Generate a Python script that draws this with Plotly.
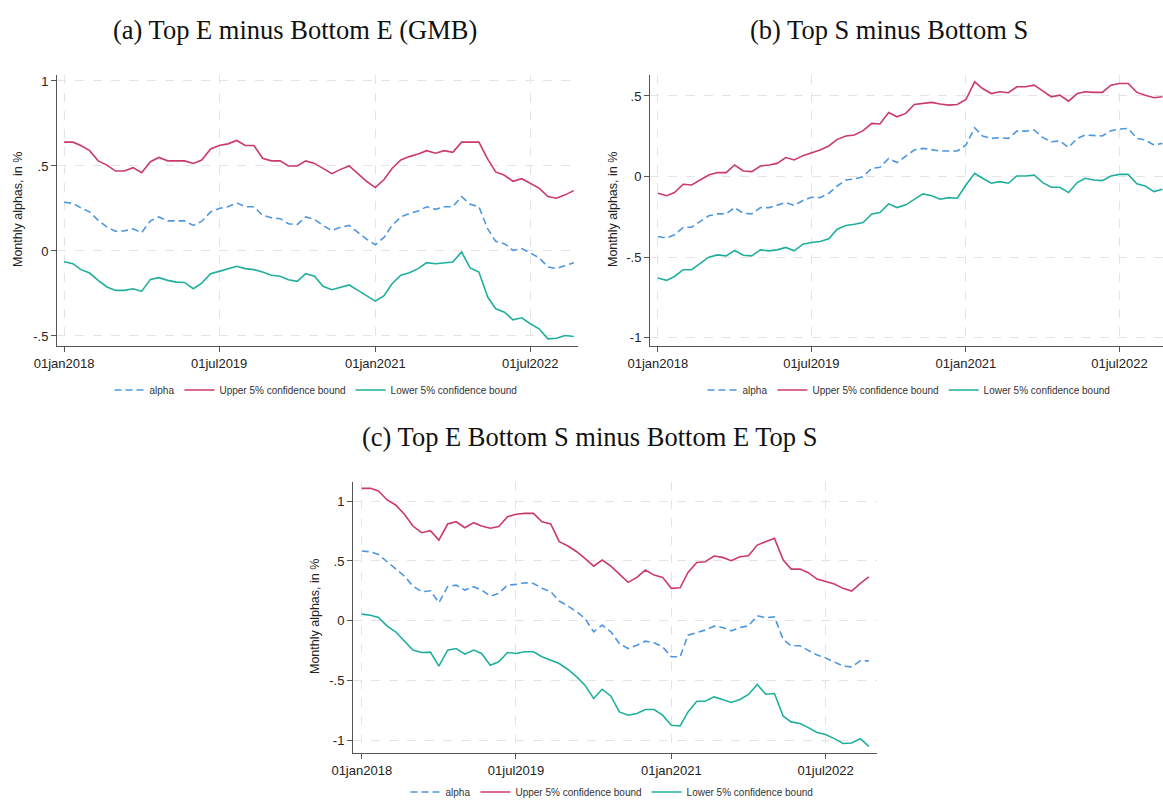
import pandas as pd
import plotly.graph_objects as go

# ---------------- data ----------------
months = pd.date_range("2018-01-01", periods=60, freq="MS")

a_alpha = [0.287, 0.28, 0.253, 0.23, 0.18, 0.14, 0.116, 0.118, 0.13, 0.108,
           0.177, 0.20, 0.177, 0.177, 0.177, 0.15, 0.175, 0.23, 0.25, 0.26,
           0.283, 0.26, 0.26, 0.21, 0.195, 0.19, 0.16, 0.155, 0.20, 0.185,
           0.15, 0.12, 0.14, 0.15, 0.11, 0.07, 0.037, 0.08, 0.15, 0.20,
           0.22, 0.235, 0.26, 0.245, 0.26, 0.26, 0.32, 0.275, 0.26, 0.13,
           0.057, 0.043, 0.004, 0.014, -0.012, -0.04, -0.094, -0.104, -0.085, -0.07]
a_upper = [0.64, 0.64, 0.62, 0.59, 0.53, 0.505, 0.47, 0.47, 0.49, 0.46,
           0.525, 0.55, 0.53, 0.53, 0.53, 0.515, 0.535, 0.60, 0.62, 0.63,
           0.65, 0.62, 0.62, 0.545, 0.53, 0.53, 0.50, 0.50, 0.53, 0.515,
           0.485, 0.455, 0.48, 0.50, 0.455, 0.41, 0.373, 0.42, 0.485, 0.535,
           0.555, 0.57, 0.59, 0.575, 0.59, 0.58, 0.64, 0.64, 0.64, 0.54,
           0.465, 0.445, 0.41, 0.425, 0.40, 0.37, 0.32, 0.31, 0.33, 0.355]
a_lower = [-0.063, -0.075, -0.11, -0.13, -0.173, -0.212, -0.232, -0.232, -0.222, -0.238,
           -0.167, -0.157, -0.173, -0.183, -0.185, -0.222, -0.189, -0.134, -0.12, -0.104,
           -0.09, -0.104, -0.11, -0.124, -0.143, -0.149, -0.169, -0.179, -0.134, -0.149,
           -0.208, -0.228, -0.216, -0.20, -0.232, -0.261, -0.295, -0.263, -0.193, -0.143,
           -0.128, -0.104, -0.069, -0.075, -0.069, -0.065, -0.006, -0.10, -0.124, -0.271,
           -0.34, -0.36, -0.405, -0.393, -0.428, -0.458, -0.517, -0.513, -0.497, -0.503]

b_alpha = [-0.371, -0.381, -0.361, -0.315, -0.313, -0.278, -0.243, -0.231, -0.231, -0.192,
           -0.227, -0.231, -0.192, -0.192, -0.177, -0.161, -0.179, -0.148, -0.128, -0.13,
           -0.103, -0.058, -0.021, -0.014, 0.0, 0.052, 0.058, 0.113, 0.087, 0.124,
           0.165, 0.175, 0.169, 0.159, 0.159, 0.159, 0.196, 0.303, 0.252, 0.237,
           0.241, 0.237, 0.282, 0.282, 0.289, 0.243, 0.216, 0.221, 0.181, 0.237,
           0.258, 0.254, 0.252, 0.285, 0.295, 0.299, 0.237, 0.227, 0.196, 0.206]
b_upper = [-0.103, -0.118, -0.099, -0.047, -0.052, -0.021, 0.01, 0.025, 0.025, 0.072,
           0.035, 0.031, 0.066, 0.072, 0.082, 0.118, 0.103, 0.13, 0.148, 0.165,
           0.19, 0.231, 0.252, 0.258, 0.285, 0.33, 0.326, 0.398, 0.371, 0.392,
           0.447, 0.454, 0.46, 0.45, 0.443, 0.447, 0.478, 0.588, 0.546, 0.515,
           0.526, 0.52, 0.557, 0.557, 0.567, 0.532, 0.495, 0.505, 0.468, 0.515,
           0.526, 0.522, 0.522, 0.567, 0.577, 0.577, 0.522, 0.505, 0.489, 0.495]
b_lower = [-0.629, -0.643, -0.619, -0.577, -0.577, -0.54, -0.499, -0.485, -0.491, -0.458,
           -0.487, -0.491, -0.454, -0.46, -0.454, -0.439, -0.46, -0.419, -0.408, -0.402,
           -0.386, -0.326, -0.303, -0.295, -0.285, -0.231, -0.223, -0.169, -0.192, -0.175,
           -0.14, -0.107, -0.118, -0.14, -0.13, -0.134, -0.052, 0.021, -0.01, -0.041,
           -0.031, -0.041, 0.004, 0.004, 0.01, -0.037, -0.066, -0.066, -0.099, -0.037,
           -0.01, -0.021, -0.025, 0.004, 0.014, 0.014, -0.045, -0.058, -0.093, -0.078]

c_alpha = [0.583, 0.577, 0.555, 0.494, 0.438, 0.374, 0.29, 0.243, 0.251, 0.151,
           0.285, 0.298, 0.257, 0.285, 0.257, 0.206, 0.229, 0.298, 0.304, 0.318,
           0.312, 0.271, 0.243, 0.165, 0.123, 0.075, 0.02, -0.092, -0.036, -0.092,
           -0.19, -0.232, -0.204, -0.17, -0.184, -0.218, -0.301, -0.301, -0.12, -0.098,
           -0.078, -0.045, -0.056, -0.084, -0.056, -0.042, 0.042, 0.025, 0.033, -0.156,
           -0.209, -0.209, -0.245, -0.287, -0.31, -0.343, -0.379, -0.385, -0.335, -0.335]
c_upper = [1.107, 1.107, 1.085, 1.01, 0.968, 0.89, 0.792, 0.736, 0.753, 0.675,
           0.809, 0.828, 0.778, 0.82, 0.792, 0.773, 0.787, 0.87, 0.89, 0.898,
           0.898, 0.828, 0.809, 0.661, 0.625, 0.577, 0.522, 0.457, 0.508, 0.457,
           0.39, 0.321, 0.363, 0.424, 0.382, 0.363, 0.271, 0.276, 0.404, 0.488,
           0.494, 0.541, 0.53, 0.502, 0.536, 0.544, 0.633, 0.661, 0.689, 0.508,
           0.432, 0.432, 0.402, 0.349, 0.326, 0.307, 0.271, 0.248, 0.312, 0.368]
c_lower = [0.056, 0.047, 0.028, -0.045, -0.092, -0.167, -0.245, -0.265, -0.262, -0.379,
           -0.245, -0.232, -0.279, -0.245, -0.273, -0.371, -0.343, -0.265, -0.273, -0.259,
           -0.259, -0.301, -0.329, -0.357, -0.407, -0.469, -0.538, -0.65, -0.572, -0.63,
           -0.762, -0.789, -0.775, -0.742, -0.742, -0.789, -0.873, -0.879, -0.762, -0.672,
           -0.672, -0.636, -0.658, -0.683, -0.658, -0.616, -0.533, -0.614, -0.608, -0.798,
           -0.845, -0.859, -0.893, -0.934, -0.951, -0.985, -1.026, -1.021, -0.985, -1.049]

x_tickvals = ["2018-01-01", "2019-07-01", "2021-01-01", "2022-07-01"]
x_ticktext = ["01jan2018", "01jul2019", "01jan2021", "01jul2022"]
y_vals_a = [-0.5, 0, 0.5, 1]
y_text_a = ["-.5", "0", ".5", "1"]
y_vals_b = [-1, -0.5, 0, 0.5]
y_text_b = ["-1", "-.5", "0", ".5"]
y_vals_c = [-1, -0.5, 0, 0.5, 1]
y_text_c = ["-1", "-.5", "0", ".5", "1"]

titles = ["(a) Top E minus Bottom E (GMB)", "(b) Top S minus Bottom S",
          "(c) Top E Bottom S minus Bottom E Top S"]
series_names = ["alpha", "Upper 5% confidence bound", "Lower 5% confidence bound"]
ytitle = "Monthly alphas, in %"

# ---------------- styling ----------------
W, H = 1163, 801
C_ALPHA = "#4f97e0"
C_UP = "#cb3a68"
C_LO = "#1faf9c"
SANS = "Liberation Sans, Arial, sans-serif"
SERIF = "Liberation Serif, DejaVu Serif, serif"

def px_x(p):
    return p / W

def px_y(p):
    return 1 - p / H

fig = go.Figure()

panels = [
    dict(alpha=a_alpha, upper=a_upper, lower=a_lower, xa="x", ya="y", leg="legend"),
    dict(alpha=b_alpha, upper=b_upper, lower=b_lower, xa="x2", ya="y2", leg="legend2"),
    dict(alpha=c_alpha, upper=c_upper, lower=c_lower, xa="x3", ya="y3", leg="legend3"),
]
for p in panels:
    for vals, name, col, dash in [(p["alpha"], series_names[0], C_ALPHA, "7px,4px"),
                                  (p["upper"], series_names[1], C_UP, "solid"),
                                  (p["lower"], series_names[2], C_LO, "solid")]:
        fig.add_trace(go.Scatter(x=months, y=vals, mode="lines", name=name,
                                 line=dict(color=col, width=1.6, dash=dash),
                                 xaxis=p["xa"], yaxis=p["ya"], legend=p["leg"],
                                 hoverinfo="skip"))

common_x = dict(type="date", tickmode="array", tickvals=x_tickvals, ticktext=x_ticktext,
                showgrid=True, gridcolor="#e4e4e4", griddash="dash", gridwidth=1,
                showline=True, linecolor="#555555", linewidth=1,
                ticks="outside", ticklen=5, tickcolor="#555555",
                tickfont=dict(family=SANS, size=13, color="#222222"),
                zeroline=False, fixedrange=True, automargin=False)
common_y = dict(tickmode="array",
                showgrid=True, gridcolor="#e4e4e4", griddash="dash", gridwidth=1,
                showline=True, linecolor="#555555", linewidth=1,
                ticks="outside", ticklen=5, tickcolor="#555555",
                tickfont=dict(family=SANS, size=13, color="#222222"),
                zeroline=False, fixedrange=True, automargin=False)

fig.update_layout(
    width=W, height=H, margin=dict(l=0, r=0, t=0, b=0, autoexpand=False),
    paper_bgcolor="white", plot_bgcolor="white",
    xaxis=dict(common_x, domain=[px_x(57), px_x(578)], range=["2017-12-07", "2022-12-16"], anchor="y"),
    yaxis=dict(common_y, domain=[px_y(346), px_y(75)], range=[-0.559, 1.035],
               tickvals=y_vals_a, ticktext=y_text_a, anchor="x"),
    xaxis2=dict(common_x, domain=[px_x(650), 1.0], range=["2017-12-04", "2022-12-03"], anchor="y2"),
    yaxis2=dict(common_y, domain=[px_y(346), px_y(75)], range=[-1.05, 0.63],
                tickvals=y_vals_b, ticktext=y_text_b, anchor="x2"),
    xaxis3=dict(common_x, domain=[px_x(353), px_x(877)], range=["2017-12-01", "2022-12-30"], anchor="y3"),
    yaxis3=dict(common_y, domain=[px_y(753), px_y(482)], range=[-1.105, 1.16],
                tickvals=y_vals_c, ticktext=y_text_c, anchor="x3"),
    showlegend=True,
)

leg_common = dict(orientation="h", xanchor="center", yanchor="middle",
                  font=dict(family=SANS, size=10, color="#333333"),
                  bgcolor="rgba(0,0,0,0)", borderwidth=0, itemclick=False, itemdoubleclick=False)
fig.update_layout(
    legend=dict(leg_common, x=px_x(316), y=px_y(390)),
    legend2=dict(leg_common, x=px_x(909), y=px_y(390)),
    legend3=dict(leg_common, x=px_x(612), y=px_y(792)),
)

# titles
for t, cx, cy in [(titles[0], 295, 30), (titles[1], 889, 30), (titles[2], 589, 437)]:
    fig.add_annotation(text=t, x=px_x(cx), y=px_y(cy), xref="paper", yref="paper",
                       xanchor="center", yanchor="middle", showarrow=False,
                       font=dict(family=SERIF, size=26.5, color="#111111"))

# y-axis titles
for cx, cy in [(18, 210), (613, 210), (315, 617)]:
    fig.add_annotation(text=ytitle, x=px_x(cx), y=px_y(cy), xref="paper", yref="paper",
                       xanchor="center", yanchor="middle", showarrow=False, textangle=-90,
                       font=dict(family=SANS, size=12.5, color="#222222"))

fig.write_html("out.html", config={"displayModeBar": False},
               post_script="document.body.style.margin='0';")
